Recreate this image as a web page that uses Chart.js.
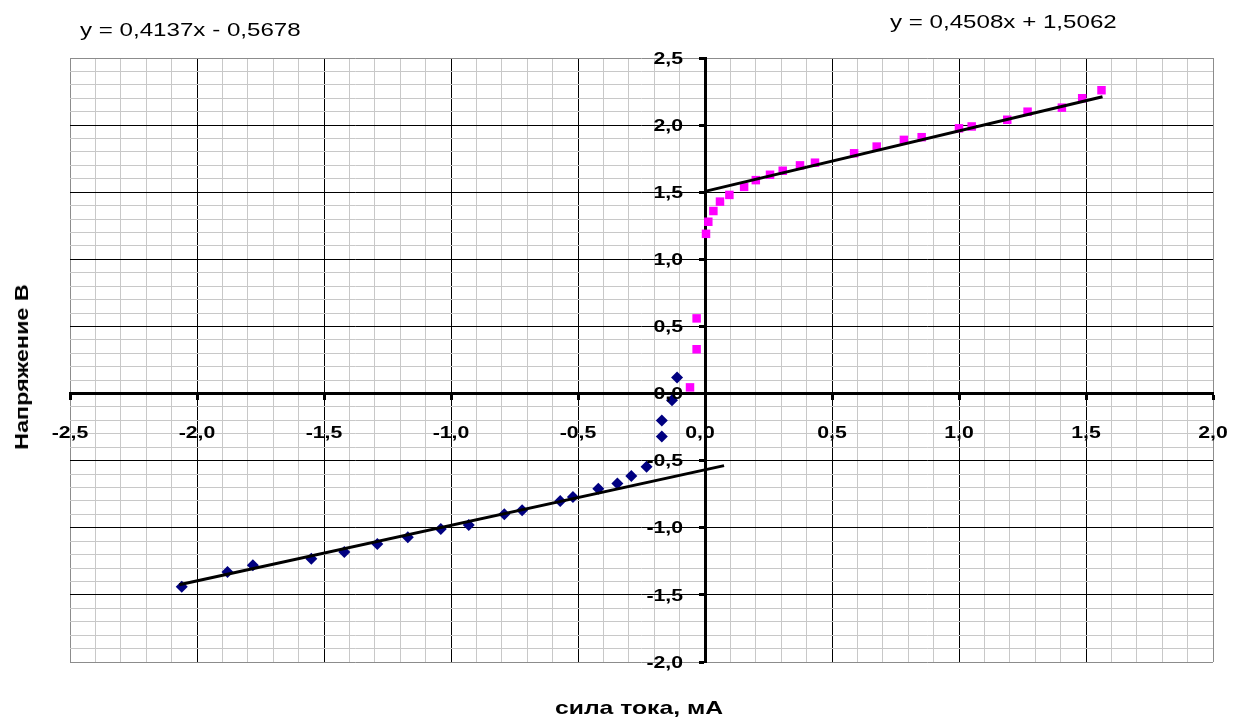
<!DOCTYPE html>
<html lang="ru">
<head>
  <meta charset="UTF-8" />
  <title>ВАХ</title>
  <script src="https://cdn.jsdelivr.net/npm/chart.js"></script>
  <style>
    body {
        margin: 0;
        background: #fff;
        font-family: Arial, 'Liberation Sans', sans-serif;
    }
    .wrap {
        position: relative;
        width: 1234px;
        height: 720px;
    }
    .eq {
        position: absolute;
        font-size: 19px;
        color: #000;
        white-space: nowrap;
        transform-origin: left center;
        transform: scaleX(1.27);
    }
    .title {
        position: absolute;
        font-size: 19px;
        font-weight: bold;
        white-space: nowrap;
    }
    #ytitle {
        left: 22px;
        top: 367px;
        transform: translate(-50%, -50%) rotate(-90deg) scaleX(1.23);
    }
    #xtitle {
        left: 639px;
        top: 708px;
        transform: translate(-50%, -50%) scaleX(1.3);
    }
  </style>
</head>
<body>
  <div class="wrap">
    <canvas id="vac" width="1234" height="720"></canvas>
    <div class="eq" style="left:80px; top:19px;">y = 0,4137x - 0,5678</div>
    <div class="eq" style="left:890px; top:11px;">y = 0,4508x + 1,5062</div>
    <div class="title" id="ytitle">Напряжение В</div>
    <div class="title" id="xtitle">сила тока, мА</div>
  </div>

  <script>
    // прямая ветвь (розовые квадраты)
    const fwdI = [-0.059, -0.033, -0.033, 0.004, 0.013, 0.033, 0.059, 0.096, 0.154, 0.20, 0.256,
                  0.306, 0.374, 0.433, 0.587, 0.676, 0.783, 0.853, 1.00, 1.05, 1.19, 1.27, 1.405, 1.485, 1.561];
    const fwdU = [0.046, 0.33, 0.56, 1.19, 1.28, 1.36, 1.43, 1.48, 1.54, 1.59, 1.63,
                  1.66, 1.70, 1.72, 1.79, 1.84, 1.89, 1.91, 1.976, 1.99, 2.04, 2.10, 2.13, 2.20, 2.26];

    // обратная ветвь (синие ромбы)
    const revI = [-2.06, -1.88, -1.78, -1.55, -1.42, -1.29, -1.17, -1.04, -0.93, -0.79, -0.72,
                  -0.57, -0.52, -0.42, -0.345, -0.29, -0.23, -0.17, -0.17, -0.13, -0.11];
    const revU = [-1.44, -1.33, -1.28, -1.23, -1.18, -1.12, -1.07, -1.01, -0.98, -0.90, -0.87,
                  -0.80, -0.77, -0.71, -0.67, -0.615, -0.545, -0.32, -0.20, -0.05, 0.12];

    // линии тренда
    const trendFwd = { k: 0.4508, b: 1.5062, from: 0, to: 1.565 };
    const trendRev = { k: 0.4137, b: -0.5678, from: -2.07, to: 0.075 };

    // подписи делений
    const xTickLabels = ['-2,5', '-2,0', '-1,5', '-1,0', '-0,5', '0,0', '0,5', '1,0', '1,5', '2,0'];
    const yTickLabels = ['-2,0', '-1,5', '-1,0', '-0,5', '0,0', '0,5', '1,0', '1,5', '2,0', '2,5'];

    const xMin = -2.5, xMax = 2.0;
    const yMin = -2.0, yMax = 2.5;

    const toPts = (xs, ys) => xs.map((x, i) => ({ x: x, y: ys[i] }));
    const trendPts = t => [t.from, t.to].map(x => ({ x: x, y: t.k * x + t.b }));
    const labelValue = s => parseFloat(s.replace(',', '.'));

    const isMajor = v => Math.abs(v * 2 - Math.round(v * 2)) < 1e-6;
    const isZero = v => Math.abs(v) < 1e-6;

    function gridColor(min, max) {
      return ctx => {
        const v = ctx.tick.value;
        if (Math.abs(v - min) < 1e-6 || Math.abs(v - max) < 1e-6) return '#8c8c8c';
        if (isMajor(v)) return '#000';
        return '#c8c8c8';
      };
    }

    // подписи у осей, проходящих через ноль (шрифт чуть растянут, как в Excel)
    const axisLabels = {
      id: 'axisLabels',
      afterDraw(chart) {
        const { ctx, scales: { x, y } } = chart;
        const x0 = x.getPixelForValue(0);
        const y0 = y.getPixelForValue(0);
        ctx.save();
        ctx.fillStyle = '#000';
        ctx.font = 'bold 17px Arial, "Liberation Sans"';
        ctx.textBaseline = 'middle';
        const put = (txt, px, py, align) => {
          ctx.save();
          ctx.translate(px, py);
          ctx.scale(1.25, 1);
          ctx.textAlign = align;
          ctx.fillText(txt, 0, 0);
          ctx.restore();
        };
        xTickLabels.forEach(s => {
          let px = x.getPixelForValue(labelValue(s));
          if (s === '0,0') px -= 5;
          put(s, px, y0 + 40, 'center');
        });
        yTickLabels.forEach(s => {
          put(s, x0 - 22, y.getPixelForValue(labelValue(s)) + 1, 'right');
        });
        ctx.restore();
      }
    };

    const ctx = document.getElementById('vac').getContext('2d');
    new Chart(ctx, {
      type: 'scatter',
      data: {
        datasets: [
          {
            type: 'line',
            data: trendPts(trendFwd),
            borderColor: '#000',
            borderWidth: 3,
            pointRadius: 0
          },
          {
            type: 'line',
            data: trendPts(trendRev),
            borderColor: '#000',
            borderWidth: 3,
            pointRadius: 0
          },
          {
            data: toPts(fwdI, fwdU),
            pointStyle: 'rect',
            pointRadius: 6,
            backgroundColor: '#ff00ff',
            borderColor: '#ff00ff',
            borderWidth: 0
          },
          {
            data: toPts(revI, revU),
            pointStyle: 'rectRot',
            pointRadius: 6,
            backgroundColor: '#000080',
            borderColor: '#000080',
            borderWidth: 0
          }
        ]
      },
      options: {
        responsive: false,
        animation: false,
        layout: { padding: { left: 70, right: 21, top: 58, bottom: 58 } },
        plugins: {
          legend: { display: false },
          tooltip: { enabled: false }
        },
        scales: {
          x: {
            type: 'linear',
            min: xMin,
            max: xMax,
            position: { y: 0 },
            border: { color: '#000', width: 3 },
            grid: {
              color: gridColor(xMin, xMax),
              lineWidth: c => isZero(c.tick.value) ? 3 : 1,
              tickLength: 5,
              tickWidth: 3,
              tickColor: c => isMajor(c.tick.value) ? '#000' : 'rgba(0,0,0,0)'
            },
            ticks: {
              stepSize: 0.1,
              autoSkip: false,
              maxRotation: 0,
              callback: () => ''
            }
          },
          y: {
            type: 'linear',
            min: yMin,
            max: yMax,
            position: { x: 0 },
            border: { color: '#000', width: 3 },
            grid: {
              color: gridColor(yMin, yMax),
              lineWidth: c => isZero(c.tick.value) ? 3 : 1,
              tickLength: 5,
              tickWidth: 3,
              tickColor: c => isMajor(c.tick.value) ? '#000' : 'rgba(0,0,0,0)'
            },
            ticks: {
              stepSize: 0.1,
              autoSkip: false,
              callback: () => ''
            }
          }
        }
      },
      plugins: [axisLabels]
    });
  </script>
</body>
</html>
